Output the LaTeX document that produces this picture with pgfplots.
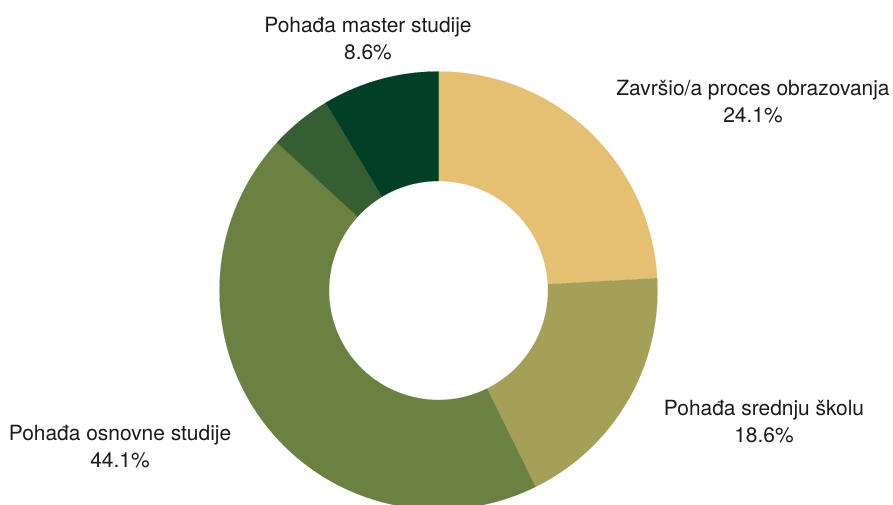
\documentclass[border=0pt]{standalone}
\usepackage{pgfplots}
\pgfplotsset{compat=1.18}
\usepackage{pgfplotstable}
\usepackage{fontspec}
\setmainfont{TeX Gyre Heros}

\definecolor{c1}{HTML}{E6C072}
\definecolor{c2}{HTML}{A5A057}
\definecolor{c3}{HTML}{6B8141}
\definecolor{c4}{HTML}{355E32}
\definecolor{c5}{HTML}{013F26}
\definecolor{txt}{HTML}{1A1A1A}

% shares, clockwise from 12 o'clock
\pgfplotstableread{
value color
24.1 c1
18.6 c2
44.1 c3
4.6 c4
8.6 c5
}\donut

\begin{document}
\begin{tikzpicture}
\begin{axis}[
    scale only axis,
    width=669.75pt, height=378pt,
    xmin=0, xmax=893, ymin=0, ymax=504,
    hide axis,
]
\path (axis cs:0,0) rectangle (axis cs:893,504);
\def\cum{0}
\pgfplotsforeachungrouped \i in {0,...,4}{%
  \pgfplotstablegetelem{\i}{value}\of\donut
  \let\v\pgfplotsretval
  \pgfplotstablegetelem{\i}{color}\of\donut
  \let\c\pgfplotsretval
  \pgfmathsetmacro\a{90-3.6*\cum}%
  \pgfmathsetmacro\b{90-3.6*(\cum+\v)}%
  \pgfmathsetmacro\ix{438.5+109.5*cos(\a)}%
  \pgfmathsetmacro\iy{213.5+109.5*sin(\a)}%
  \edef\temp{\noexpand\addplot[fill=\c, draw=\c, line width=0.1pt,
      domain=\b:\a, samples=90, variable=\noexpand\t]
    ({438.5+219*cos(\noexpand\t)},{213.5+219*sin(\noexpand\t)})
    -- (axis cs:\ix,\iy) arc[start angle=\a, end angle=\b, radius=82.125pt] -- cycle;}%
  \temp
  \pgfmathsetmacro\cum{\cum+\v}%
}
\begin{scope}[every node/.style={align=center, text=txt, font=\fontsize{15.7}{20.25}\selectfont}]
\node at (axis cs:368,465.5) {Pohađa master studije\\8.6\%};
\node at (axis cs:753,402.5) {Završio/a proces obrazovanja\\24.1\%};
\node at (axis cs:764,82.5) {Pohađa srednju školu\\18.6\%};
\node at (axis cs:120,57.5) {Pohađa osnovne studije\\44.1\%};
\end{scope}
\end{axis}
\end{tikzpicture}
\end{document}
